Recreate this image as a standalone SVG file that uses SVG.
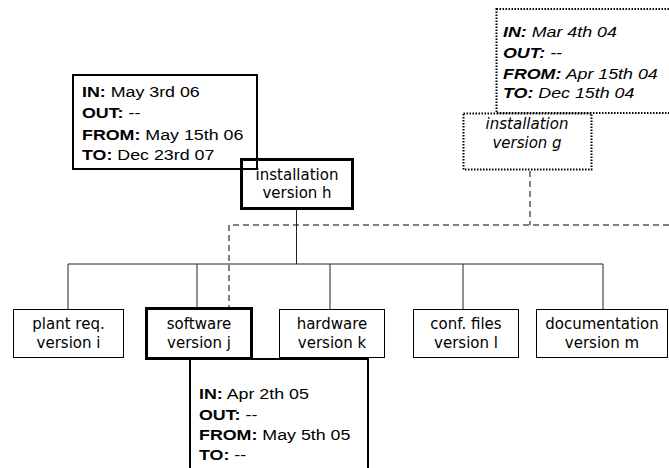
<svg xmlns="http://www.w3.org/2000/svg" width="669" height="468" viewBox="0 0 669 468">
<style>
  .box{fill:none;stroke:#000;stroke-width:1}
  .thick{fill:none;stroke:#000;stroke-width:3}
  .info{fill:none;stroke:#000;stroke-width:2}
  .dot{fill:none;stroke:#000;stroke-width:2;stroke-dasharray:1.5 1.5}
  .ln{fill:none;stroke:#222;stroke-width:1}
  .dash{fill:none;stroke:#000;stroke-width:1;stroke-dasharray:6 4}
  .lbl{font-family:"DejaVu Sans",sans-serif;font-size:15px;fill:#000;text-anchor:middle}
  .it{font-style:italic}
  .t{font-family:"Liberation Sans",Arial,sans-serif;font-size:15.5px;fill:#000}
  .b{font-weight:bold}
</style>
<rect width="669" height="468" fill="#fff"/>
<g id="connectors">
  <path class="ln" d="M296.5,209 V264 M68,264 H603 M68,264 V309 M197,264 V309 M330,264 V309 M463,264 V309 M603,264 V309"/>
  <path class="dash" d="M530,171 V225 M669,225 H229 V308"/>
</g>
<g id="info-h">
  <rect class="info" x="73" y="75" width="184" height="94"/>
  <text class="t" transform="translate(82,97) scale(1.15,1)"><tspan class="b">IN:</tspan> May 3rd 06</text>
  <text class="t" transform="translate(82,118) scale(1.15,1)"><tspan class="b">OUT:</tspan> --</text>
  <text class="t" transform="translate(82,140) scale(1.15,1)"><tspan class="b">FROM:</tspan> May 15th 06</text>
  <text class="t" transform="translate(82,160) scale(1.15,1)"><tspan class="b">TO:</tspan> Dec 23rd 07</text>
</g>
<g id="installation-h">
  <rect class="thick" x="241.5" y="159.5" width="111" height="49"/>
  <text class="lbl" x="297" y="180">installation</text>
  <text class="lbl" x="297" y="198">version h</text>
</g>
<g id="info-g">
  <rect class="dot" x="496.5" y="9" width="180" height="104"/>
  <text class="t it" transform="translate(503,37) scale(1.15,1)"><tspan class="b">IN:</tspan> Mar 4th 04</text>
  <text class="t it" transform="translate(503,57.5) scale(1.15,1)"><tspan class="b">OUT:</tspan> --</text>
  <text class="t it" transform="translate(503,79) scale(1.15,1)"><tspan class="b">FROM:</tspan> Apr 15th 04</text>
  <text class="t it" transform="translate(503,98) scale(1.15,1)"><tspan class="b">TO:</tspan> Dec 15th 04</text>
</g>
<g id="installation-g">
  <rect class="dot" x="463.5" y="113.5" width="128" height="56"/>
  <text class="lbl it" x="527" y="129">installation</text>
  <text class="lbl it" x="527" y="148">version g</text>
</g>
<g id="plant">
  <rect class="box" x="13.5" y="309.5" width="110" height="48"/>
  <text class="lbl" x="68.5" y="329">plant req.</text>
  <text class="lbl" x="68.5" y="348">version i</text>
</g>
<g id="software">
  <rect class="thick" x="146.5" y="308.5" width="105" height="50"/>
  <text class="lbl" x="199" y="329">software</text>
  <text class="lbl" x="199" y="348">version j</text>
</g>
<g id="hardware">
  <rect class="box" x="279.5" y="309.5" width="105" height="48"/>
  <text class="lbl" x="332" y="329">hardware</text>
  <text class="lbl" x="332" y="348">version k</text>
</g>
<g id="conf">
  <rect class="box" x="413.5" y="309.5" width="105" height="48"/>
  <text class="lbl" x="466" y="329">conf. files</text>
  <text class="lbl" x="466" y="348">version l</text>
</g>
<g id="documentation">
  <rect class="box" x="536.5" y="309.5" width="131" height="48"/>
  <text class="lbl" x="602" y="329">documentation</text>
  <text class="lbl" x="602" y="348">version m</text>
</g>
<g id="info-j">
  <rect class="info" x="190" y="359" width="178" height="115"/>
  <text class="t" transform="translate(199,399) scale(1.15,1)"><tspan class="b">IN:</tspan> Apr 2th 05</text>
  <text class="t" transform="translate(199,420) scale(1.15,1)"><tspan class="b">OUT:</tspan> --</text>
  <text class="t" transform="translate(199,440) scale(1.15,1)"><tspan class="b">FROM:</tspan> May 5th 05</text>
  <text class="t" transform="translate(199,460) scale(1.15,1)"><tspan class="b">TO:</tspan> --</text>
</g>
</svg>
